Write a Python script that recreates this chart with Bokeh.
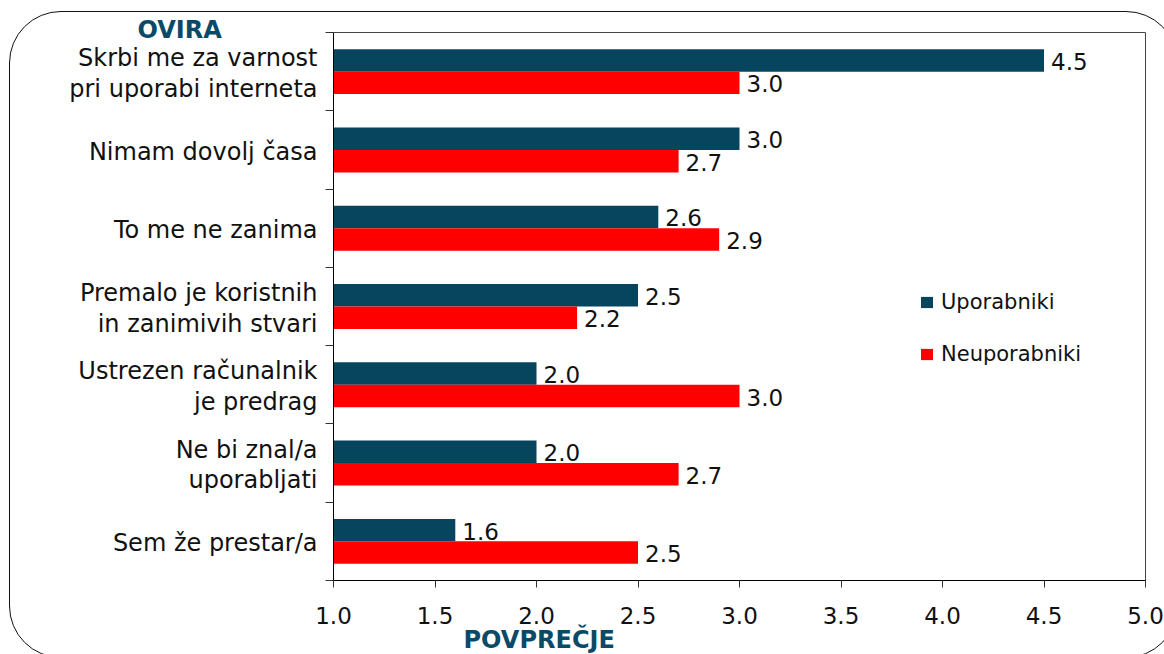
from bokeh.plotting import figure
from bokeh.models import (ColumnDataSource, FixedTicker, PrintfTickFormatter, LinearAxis,
                          Legend, LegendItem, Title, InlineStyleSheet)
from bokeh.embed import file_html
from bokeh.resources import INLINE

# ---------------- data ----------------
categories = ["Skrbi me za varnost\npri uporabi interneta",
              "Nimam dovolj časa",
              "To me ne zanima",
              "Premalo je koristnih\nin zanimivih stvari",
              "Ustrezen računalnik\nje predrag",
              "Ne bi znal/a\nuporabljati",
              "Sem že prestar/a"]
uporabniki = [4.5, 3.0, 2.6, 2.5, 2.0, 2.0, 1.6]
neuporabniki = [3.0, 2.7, 2.9, 2.2, 3.0, 2.7, 2.5]
x_ticks = [1.0, 1.5, 2.0, 2.5, 3.0, 3.5, 4.0, 4.5, 5.0]
series_names = ["Uporabniki", "Neuporabniki"]
y_title = "OVIRA"
x_title = "POVPREČJE"

# ---------------- style / layout ----------------
DARK = "#07445e"
RED = "#ff0000"
TITLE_C = "#0b4a66"
TXT = "#111111"
FONT = "DejaVu Sans"
W, H = 1164, 654
FL, FT, FW, FH = 333, 32, 812, 548     # frame in canvas px
X0, X1 = 1.0, 5.0
n = len(categories)
BAR_H = 0.287
YS = FH / n
LABEL_SHIFT = 2.0 / YS                 # category labels sit ~2px below group centre

centers = [n - 0.5 - i for i in range(n)]
src_u = ColumnDataSource(dict(y=[c + BAR_H / 2 for c in centers], v=uporabniki,
                              t=[f"{v:.1f}" for v in uporabniki]))
src_n = ColumnDataSource(dict(y=[c - BAR_H / 2 for c in centers], v=neuporabniki,
                              t=[f"{v:.1f}" for v in neuporabniki]))

border_css = InlineStyleSheet(css="""
:host { position: relative; overflow: hidden; }
:host::after {
  content: ""; position: absolute; left: 9px; top: 11px;
  width: 1169px; height: 647px; box-sizing: border-box;
  border: 1.5px solid #111; border-radius: 52px; pointer-events: none;
}
""")

p = figure(width=W, height=H, output_backend="svg", toolbar_location=None,
           x_range=(X0, X1), y_range=(0, n),
           min_border_left=FL, min_border_top=FT,
           min_border_right=W - FL - FW, min_border_bottom=H - FT - FH,
           stylesheets=[border_css])
p.background_fill_color = "white"
p.border_fill_color = "white"
p.outline_line_color = "#444444"
p.outline_line_width = 1
p.xgrid.visible = False
p.ygrid.visible = False

r_u = p.hbar(y="y", left=X0, right="v", height=BAR_H, source=src_u,
             fill_color=DARK, line_color=None)
r_n = p.hbar(y="y", left=X0, right="v", height=BAR_H, source=src_n,
             fill_color=RED, line_color=None)

for s in (src_u, src_n):
    p.text(x="v", y="y", text="t", source=s, x_offset=7, y_offset=1,
           text_baseline="middle", text_align="left",
           text_font_size="23px", text_font={"value": FONT}, text_color=TXT)

# x axis
xa = p.xaxis[0]
xa.ticker = FixedTicker(ticks=x_ticks)
xa.formatter = PrintfTickFormatter(format="%.1f")
xa.major_tick_out = 7
xa.major_tick_in = 0
xa.minor_tick_out = 0
xa.minor_tick_in = 0
xa.axis_line_color = "black"
xa.major_tick_line_color = "#333333"
xa.major_label_text_font = FONT
xa.major_label_text_font_size = "23px"
xa.major_label_text_color = TXT
xa.major_label_standoff = 19

# y axis: group separators (ticks only, empty labels)
ya = p.yaxis[0]
ya.ticker = FixedTicker(ticks=list(range(n + 1)))
ya.major_label_overrides = {i: "" for i in range(n + 1)}
ya.major_tick_out = 8
ya.major_tick_in = 0
ya.minor_tick_out = 0
ya.minor_tick_in = 0
ya.axis_line_color = "black"
ya.major_tick_line_color = "#333333"
ya.major_label_text_font_size = "0px"
ya.major_label_standoff = 0

# y axis: category names
label_pos = [c - LABEL_SHIFT for c in centers]
yb = LinearAxis(ticker=FixedTicker(ticks=label_pos),
                major_label_overrides={c: cat for c, cat in zip(label_pos, categories)})
yb.axis_line_color = None
yb.major_tick_out = 0
yb.major_tick_in = 0
yb.minor_tick_out = 0
yb.minor_tick_in = 0
yb.major_label_standoff = 8
yb.major_label_text_font = FONT
yb.major_label_text_font_size = "24px"
yb.major_label_text_color = TXT
yb.major_label_text_align = "center"
yb.major_label_text_line_height = 1.1
p.add_layout(yb, "left")

# titles
t_y = Title(text=y_title, align="left", offset=137 - FL, standoff=-22,
            text_font=FONT, text_font_style="bold", text_font_size="24px",
            text_color=TITLE_C)
p.add_layout(t_y, "above")
t_x = Title(text=x_title, align="left", offset=463 - FL, standoff=-6,
            text_font=FONT, text_font_style="bold", text_font_size="24px",
            text_color=TITLE_C)
p.add_layout(t_x, "below")

# legend
legend = Legend(items=[LegendItem(label=series_names[0], renderers=[r_u]),
                       LegendItem(label=series_names[1], renderers=[r_n])],
                location=(586, 214), orientation="vertical",
                glyph_width=15, glyph_height=14, label_standoff=7,
                label_text_font=FONT, label_text_font_size="21px",
                label_text_color=TXT, spacing=28, padding=0, margin=0,
                border_line_color=None, background_fill_alpha=0)
p.add_layout(legend, "center")

open("out.html", "w").write(file_html(p, INLINE))
